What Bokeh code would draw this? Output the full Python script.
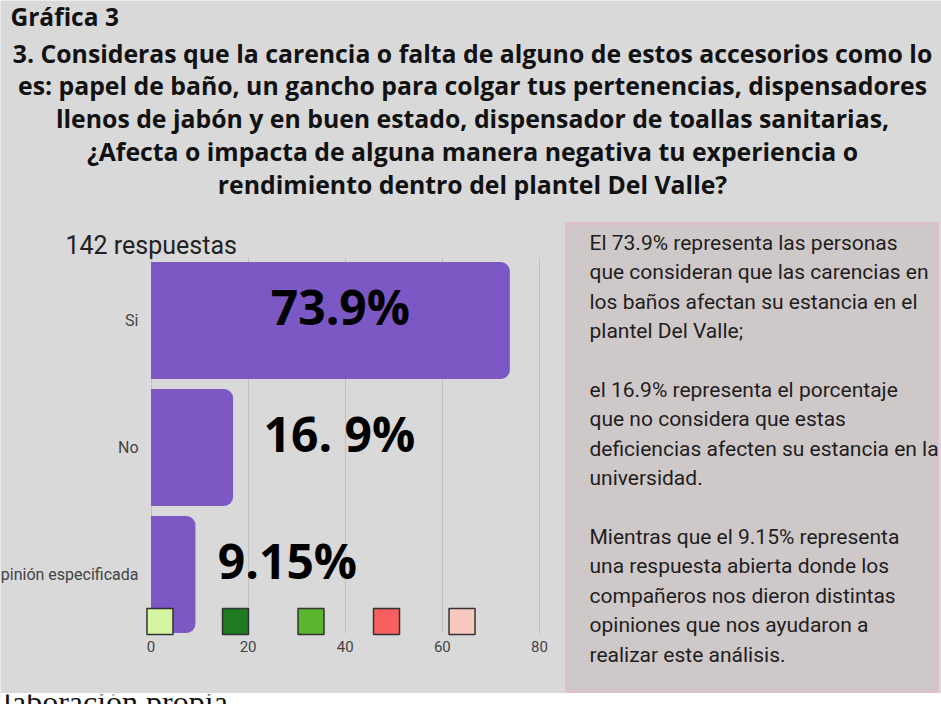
from bokeh.plotting import figure
from bokeh.models import Range1d, ColumnDataSource, FixedTicker, BoxAnnotation
from bokeh.layouts import column
from bokeh.core.properties import value
from bokeh.embed import file_html
from bokeh.resources import INLINE

# ---------------- data ----------------
categories = ["Si", "No", "Opinión especificada"]
percentages = [73.9, 16.9, 9.15]
bar_labels = ["73.9%", "16. 9%", "9.15%"]
x_ticks = [0, 20, 40, 60, 80]
swatch_colors = ["#d4f6a2", "#1e7b22", "#5cb52e", "#f75f60", "#f9c8c1"]
responses_label = "142 respuestas"
chart_number = "Gráfica 3"
question_lines = [
    "3. Consideras que la carencia o falta de alguno de estos accesorios como lo",
    "es: papel de baño, un gancho para colgar tus pertenencias, dispensadores",
    "llenos de jabón y en buen estado, dispensador de toallas sanitarias,",
    "¿Afecta o impacta de alguna manera negativa tu experiencia o",
    "rendimiento dentro del plantel Del Valle?",
]
note_lines = [
    "El 73.9%  representa las personas",
    "que consideran que las carencias en",
    "los baños afectan su estancia  en el",
    "plantel Del Valle;",
    "",
    "el 16.9% representa el porcentaje",
    "que no considera que estas",
    "deficiencias afecten su estancia en la",
    "universidad.",
    "",
    "Mientras que el 9.15% representa",
    "una respuesta abierta donde los",
    "compañeros nos dieron distintas",
    "opiniones que nos ayudaron a",
    "realizar este análisis.",
]
source_note = "Elaboración propia"

# ---------------- layout / style ----------------
BG = "#d9d9d9"
BAR = "#7b58c4"
BOX_FILL = "#cfc8c9"
BOX_LINE = "#dcc2cc"
W, H = 941, 704
MAIN_H = 693
FOOT_H = H - MAIN_H
ZERO_PX = 150.5        # screen x of value 0
PX_PER_UNIT = 4.856    # screen px per percentage point
CAT0_PX = 574.0        # screen y of the lowest category centre
ROW_PX = 127.0         # screen px between category centres


def X(px):
    return (px - ZERO_PX) / PX_PER_UNIT


def Y(py):
    return (CAT0_PX - py) / ROW_PX


common = dict(output_backend="svg", toolbar_location=None)

p = figure(width=W, height=MAIN_H, x_range=Range1d(X(0), X(W)),
           y_range=Range1d(Y(MAIN_H), Y(0)), y_axis_location=None,
           min_border=0, background_fill_color=BG, border_fill_color=BG,
           outline_line_color=None, **common)

# x axis drawn inside the frame under the bars
xa = p.xaxis[0]
xa.fixed_location = Y(637)
xa.ticker = FixedTicker(ticks=x_ticks)
xa.axis_line_color = None
xa.major_tick_line_color = None
xa.minor_tick_line_color = None
xa.major_tick_out = 0
xa.major_tick_in = 0
xa.major_label_standoff = 3
xa.major_label_text_font = "Roboto"
xa.major_label_text_font_size = "15px"
xa.major_label_text_color = "#444444"

p.ygrid.visible = False
g = p.xgrid[0]
g.grid_line_color = "#c0c0c0"
g.grid_line_width = 1
if "cross_bounds" in g.properties():
    g.cross_bounds = (Y(633), Y(257))
    g.bounds = (10, 90)
else:
    g.visible = False
    gt = [t for t in x_ticks if t > 0]
    p.segment(x0=gt, x1=gt, y0=[Y(633)] * len(gt), y1=[Y(257)] * len(gt),
              line_color="#c0c0c0", line_width=1)

# header texts
p.text(x=[X(10)], y=[Y(16)], text=[chart_number], text_font=value("Open Sans"),
       text_font_style="bold", text_font_size="24.5px", text_align="left",
       text_baseline="middle", text_color="#111111")
q_y = [Y(52 + 32.75 * i) for i in range(len(question_lines))]
p.text(x=[X(472)] * len(question_lines), y=q_y, text=question_lines,
       text_font=value("Open Sans"), text_font_style="bold", text_font_size="24.8px",
       text_align="center", text_baseline="middle", text_color="#111111")

# responses count
p.text(x=[X(65)], y=[Y(245)], text=[responses_label], text_font=value("Roboto"),
       text_font_size="25px", text_color="#222222", text_align="left",
       text_baseline="middle")

# bars
cat_y = [len(categories) - 1 - i for i in range(len(categories))]
src = ColumnDataSource(dict(y=cat_y, cat=categories, pct=percentages, label=bar_labels,
                            ly=[v + 0.11 for v in cat_y], lx=[39.0, 38.8, 28.1]))
p.hbar(y="y", left=0, right="pct", height=0.92, source=src, fill_color=BAR,
       line_color=None, border_radius=(0, 9, 9, 0))
p.text(x=X(138), y="y", text="cat", source=src, text_font=value("Roboto"),
       text_font_size="16px", text_color="#444444", text_align="right",
       text_baseline="middle")
p.text(x="lx", y="ly", text="label", source=src,
       text_font=value("Open Sans"), text_font_style="bold", text_font_size="48px",
       text_color="#000000", text_align="center", text_baseline="middle")

# colour swatches
n_sw = len(swatch_colors)
p.scatter(x=[1.85 + 15.55 * i for i in range(n_sw)], y=[Y(621)] * n_sw,
          marker="square", size=26, fill_color=swatch_colors, line_color="#333333",
          line_width=1.5)

# explanatory text box
p.add_layout(BoxAnnotation(left=X(566), right=X(937), top=Y(223), bottom=Y(691),
                           fill_color=BOX_FILL, fill_alpha=1.0, line_color=BOX_LINE,
                           line_alpha=1.0, line_width=3, level="underlay"))
n_y = [Y(242.5 + 29.4 * i) for i in range(len(note_lines))]
p.text(x=[X(589)] * len(note_lines), y=n_y, text=note_lines, text_font=value("Roboto"),
       text_font_size="21px", text_color="#1e1e1e", text_align="left",
       text_baseline="middle")

# footer (only the lower part of the caption is visible)
foot = figure(width=W, height=FOOT_H, x_range=Range1d(0, W), y_range=Range1d(FOOT_H, 0),
              x_axis_location=None, y_axis_location=None, min_border=0,
              background_fill_color="white", border_fill_color="white",
              outline_line_color=None, **common)
foot.grid.visible = False
foot.text(x=[-17], y=[7], text=[source_note], text_font=value("Liberation Serif"),
          text_font_size="32px", text_color="#111111", text_align="left",
          text_baseline="alphabetic")

layout = column(p, foot)
open("out.html", "w").write(file_html(layout, INLINE))
